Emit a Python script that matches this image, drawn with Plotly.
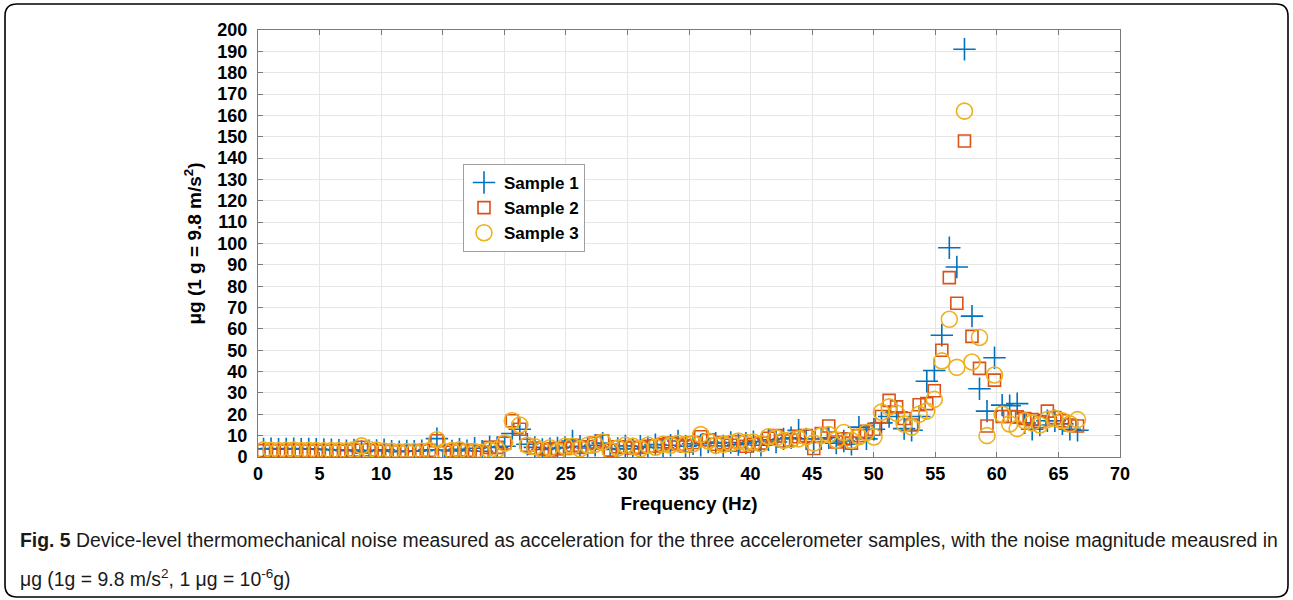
import plotly.graph_objects as go

# ---------------- data ----------------
freq_hz = [0.45, 1.06, 1.67, 2.29, 2.90, 3.51, 4.12, 4.73, 5.35, 5.96,
           6.57, 7.18, 7.79, 8.41, 9.02, 9.63, 10.24, 10.85, 11.47, 12.08,
           12.69, 13.30, 13.91, 14.53, 15.14, 15.75, 16.36, 16.97, 17.59, 18.20,
           18.81, 19.42, 20.03, 20.65, 21.26, 21.87, 22.48, 23.09, 23.71, 24.32,
           24.93, 25.54, 26.15, 26.77, 27.38, 27.99, 28.60, 29.21, 29.83, 30.44,
           31.05, 31.66, 32.27, 32.89, 33.50, 34.11, 34.72, 35.33, 35.95, 36.56,
           37.17, 37.78, 38.39, 39.01, 39.62, 40.23, 40.84, 41.45, 42.07, 42.68,
           43.29, 43.90, 44.51, 45.13, 45.74, 46.35, 46.96, 47.57, 48.19, 48.80,
           49.41, 50.02, 50.63, 51.25, 51.86, 52.47, 53.08, 53.69, 54.31, 54.92,
           55.53, 56.14, 56.75, 57.37, 57.98, 58.59, 59.20, 59.81, 60.43, 61.04,
           61.65, 62.26, 62.87, 63.49, 64.10, 64.71, 65.32, 65.93, 66.55]

sample1 = [3.8, 3.9, 3.7, 3.8, 3.9, 3.6, 3.8, 3.7, 3.5, 3.4,
           3.2, 3.0, 3.3, 2.6, 2.9, 3.1, 3.4, 2.7, 2.5, 2.8,
           2.7, 2.9, 3.4, 8.6, 3.3, 2.8, 3.6, 2.9, 4.1, 2.7,
           4.8, 4.5, 5.0, 11.0, 13.0, 6.0, 4.5, 3.5, 3.9, 4.2,
           4.5, 7.5, 5.0, 4.2, 5.5, 6.5, 3.5, 4.0, 5.2, 3.8,
           5.0, 4.5, 5.8, 4.3, 5.5, 7.5, 5.0, 6.2, 5.5, 7.0,
           6.5, 5.2, 6.8, 5.8, 6.5, 7.2, 5.5, 8.0, 7.0, 8.5,
           9.0, 12.5, 8.5, 7.0, 8.5, 9.0, 6.5, 7.5, 6.0, 14.0,
           8.5, 13.0, 16.0, 19.0, 21.0, 13.3, 12.5, 19.0, 35.5, 40.5,
           57.0, 98.0, 89.0, 191.0, 66.0, 32.0, 21.5, 46.5, 24.3, 24.0,
           25.0, 16.0, 13.0, 15.0, 17.0, 17.0, 15.5, 13.0, 12.5]

sample2 = [3.0, 3.1, 2.9, 3.0, 3.1, 3.0, 2.9, 3.0, 2.8, 2.9,
           2.9, 2.8, 3.2, 4.6, 3.4, 3.0, 2.7, 2.6, 2.5, 2.7,
           2.6, 2.8, 3.1, 7.6, 2.2, 2.9, 3.3, 3.1, 2.6, 2.4,
           4.5, 4.5, 6.5, 17.0, 13.0, 5.5, 4.2, 3.8, 3.3, 3.9,
           4.0, 5.5, 4.5, 4.8, 6.5, 7.5, 3.2, 4.8, 4.5, 4.2,
           4.5, 5.0, 5.2, 5.8, 6.5, 6.0, 5.2, 6.8, 9.5, 8.0,
           6.0, 6.8, 5.5, 7.2, 5.0, 6.0, 6.5, 8.8, 10.0, 7.5,
           8.0, 9.5, 10.0, 4.0, 11.0, 14.5, 7.0, 8.5, 6.5, 10.0,
           12.0, 13.0, 19.0, 26.5, 23.5, 18.0, 15.0, 24.5, 25.0, 31.0,
           50.0, 84.0, 72.0, 148.0, 56.5, 41.5, 14.5, 36.0, 19.0, 19.0,
           18.8, 18.0, 17.5, 16.5, 21.5, 18.5, 17.0, 15.0, 14.5]

sample3 = [3.2, 3.1, 3.0, 3.1, 3.2, 3.0, 3.1, 3.0, 2.9, 3.0,
           3.0, 2.9, 3.4, 5.2, 3.6, 3.2, 2.8, 2.7, 2.4, 2.6,
           2.6, 2.7, 3.0, 8.1, 2.6, 3.0, 3.4, 2.7, 2.5, 2.2,
           3.2, 3.5, 6.5, 17.0, 15.0, 5.5, 4.8, 3.4, 4.3, 2.5,
           5.0, 5.0, 3.8, 5.5, 6.0, 7.0, 3.0, 4.2, 5.5, 5.0,
           3.8, 5.5, 4.6, 6.0, 5.5, 6.4, 5.8, 6.2, 10.5, 7.5,
           5.5, 6.0, 6.5, 7.5, 6.8, 7.0, 6.2, 9.5, 9.0, 7.8,
           8.2, 8.5, 9.5, 6.5, 10.0, 10.5, 8.0, 11.5, 7.8, 9.5,
           11.5, 9.4, 21.0, 23.5, 20.5, 15.5, 14.0, 20.0, 21.5, 27.0,
           45.0, 64.5, 42.0, 162.0, 44.5, 56.0, 10.0, 38.4, 20.0, 15.5,
           13.3, 17.0, 16.0, 15.0, 17.5, 18.0, 17.0, 15.5, 17.5]

series_names = ["Sample 1", "Sample 2", "Sample 3"]
x_ticks = list(range(0, 71, 5))
y_ticks = list(range(0, 201, 10))

# ---------------- styling ----------------
W, H = 1293, 600
L, R, T, B = 258, 173, 30, 143
pw, ph = W - L - R, H - T - B

def px(xp):
    return (xp - L) / pw

def py(yp):
    return (T + ph - yp) / ph

colors = ["#0072BD", "#D95319", "#EDB120"]
symbols = ["cross-thin-open", "square-open", "circle-open"]
sizes = [16, 12, 16]

fig = go.Figure()
for name, ys, c, s, sz in zip(series_names, [sample1, sample2, sample3], colors, symbols, sizes):
    fig.add_trace(go.Scatter(
        x=freq_hz, y=ys, mode="markers", name=name,
        marker=dict(symbol=s, size=sz, color=c, line=dict(color=c, width=1.6)),
    ))

FONT = "Liberation Sans, Arial, Helvetica, sans-serif"
tickfont = dict(family=FONT, size=18, color="black", weight="bold")
fig.update_xaxes(
    range=[0, 70], tickvals=x_ticks, ticktext=[str(v) for v in x_ticks],
    showgrid=True, gridcolor="#e6e6e6", gridwidth=1, zeroline=False,
    showline=True, linecolor="#7a7a7a", linewidth=1, mirror="ticks",
    ticks="inside", ticklen=5, tickcolor="#7a7a7a", tickfont=tickfont,
    title=dict(text="Frequency (Hz)", font=dict(family=FONT, size=19, color="black", weight="bold"), standoff=14),
)
fig.update_yaxes(
    range=[0, 200], tickvals=y_ticks, ticktext=[str(v) for v in y_ticks],
    showgrid=True, gridcolor="#e6e6e6", gridwidth=1, zeroline=False,
    showline=True, linecolor="#7a7a7a", linewidth=1, mirror="ticks",
    ticks="inside", ticklen=5, tickcolor="#7a7a7a", tickfont=tickfont,
    ticklabelstandoff=6,
    title=dict(text="μg (1 g = 9.8 m/s<sup>2</sup>)", font=dict(family=FONT, size=19, color="black", weight="bold"), standoff=10),
)

# rounded frame around the whole figure
x0, y0, x1, y1, r = 5, 4, 1288, 597, 12
path = (f"M {px(x0 + r)} {py(y0)} L {px(x1 - r)} {py(y0)} Q {px(x1)} {py(y0)} {px(x1)} {py(y0 + r)} "
        f"L {px(x1)} {py(y1 - r)} Q {px(x1)} {py(y1)} {px(x1 - r)} {py(y1)} "
        f"L {px(x0 + r)} {py(y1)} Q {px(x0)} {py(y1)} {px(x0)} {py(y1 - r)} "
        f"L {px(x0)} {py(y0 + r)} Q {px(x0)} {py(y0)} {px(x0 + r)} {py(y0)} Z")
fig.add_shape(type="path", path=path, xref="paper", yref="paper",
              line=dict(color="black", width=1.6), fillcolor="rgba(0,0,0,0)", layer="below")

capfont = dict(family=FONT, size=19.4, color="#1a1a1a")
fig.add_annotation(
    text="<b>Fig. 5</b> Device-level thermomechanical noise measured as acceleration for the three accelerometer samples, with the noise magnitude meausred in",
    xref="paper", yref="paper", x=px(18), y=py(540), xanchor="left", yanchor="middle",
    showarrow=False, font=capfont, align="left")
fig.add_annotation(
    text="μg (1g = 9.8 m/s<sup>2</sup>, 1 μg = 10<sup>-6</sup>g)",
    xref="paper", yref="paper", x=px(18), y=py(578), xanchor="left", yanchor="middle",
    showarrow=False, font=capfont, align="left")

fig.update_layout(
    width=W, height=H,
    margin=dict(l=L, r=R, t=T, b=B, autoexpand=False),
    paper_bgcolor="white", plot_bgcolor="white",
    legend=dict(x=px(463), y=py(164), xanchor="left", yanchor="top",
                bgcolor="white", bordercolor="#a0a0a0", borderwidth=1,
                font=dict(family=FONT, size=17, color="black", weight="bold"),
                tracegroupgap=0),
    showlegend=True,
)

fig.write_html("out.html",
               config={"displayModeBar": False},
               post_script="document.body.style.margin='0';document.body.style.overflow='hidden';")
